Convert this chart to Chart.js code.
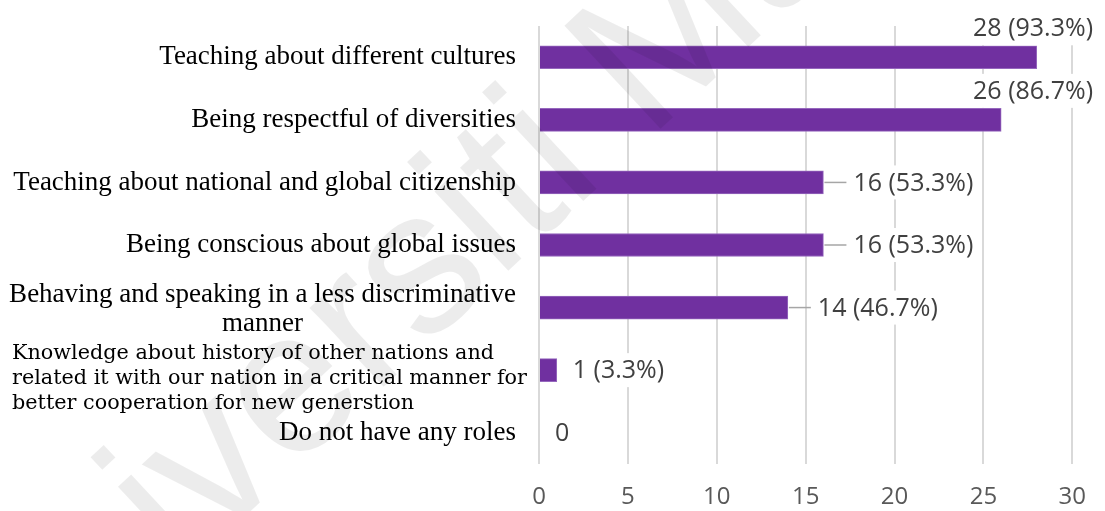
<!DOCTYPE html>
<html lang="en">
  <head>
    <meta charset="UTF-8" />
    <title>Roles in global citizenship education</title>
    <script src="https://cdn.jsdelivr.net/npm/chart.js@4.4.1/dist/chart.umd.min.js"></script>
    <style>
      html,
      body {
        margin: 0;
        padding: 0;
        background: #fff;
      }

      .chart-box {
        position: relative;
        width: 1105px;
        height: 511px;
      }
    </style>
  </head>
  <body>
    <div class="chart-box">
      <canvas id="rolesChart"></canvas>
    </div>

    <script>
      // Responses per role (n = 30)
      const categories = [
        "Teaching about different cultures",
        "Being respectful of diversities",
        "Teaching about national and global citizenship",
        "Being conscious about global issues",
        ["Behaving and speaking in a less discriminative", "manner"],
        [
          "Knowledge about history of other nations and",
          "related it with our nation in a critical manner for",
          "better cooperation for new generstion",
        ],
        "Do not have any roles",
      ];
      const counts = [28, 26, 16, 16, 14, 1, 0];
      const percents = [93.3, 86.7, 53.3, 53.3, 46.7, 3.3, null];
      const xTicks = [0, 5, 10, 15, 20, 25, 30];

      const barColor = "#7030a0";
      const serif = '"Liberation Serif", "Times New Roman", serif';
      const sans = '"Open Sans", "Noto Sans", sans-serif';

      // category names on the left, drawn by hand so each can keep its own alignment
      const categoryLabels = {
        id: "categoryLabels",
        afterDraw(chart) {
          const { ctx, chartArea } = chart;
          const y = chart.scales.y;
          const right = chartArea.left - 23;
          ctx.save();
          ctx.fillStyle = "#000";
          ctx.textBaseline = "middle";
          categories.forEach((label, i) => {
            const cy = y.getPixelForValue(i);
            if (!Array.isArray(label)) {
              ctx.font = "27px " + serif;
              ctx.textAlign = "right";
              ctx.fillText(label, right, cy);
            } else if (label.length === 2) {
              // wrapped label, lines centred on the block
              ctx.font = "27px " + serif;
              ctx.textAlign = "center";
              const w = Math.max(...label.map((l) => ctx.measureText(l).width));
              const mid = right - w / 2;
              ctx.fillText(label[0], mid, cy - 13);
              ctx.fillText(label[1], mid, cy + 16);
            } else {
              // the long one is set in a smaller face, left aligned
              ctx.font = '20px "DejaVu Serif", serif';
              ctx.textAlign = "left";
              const w = Math.max(...label.map((l) => ctx.measureText(l).width));
              const sx = 515 / w;
              ctx.save();
              ctx.translate(12, cy + 9);
              ctx.scale(sx, 1);
              label.forEach((l, k) => ctx.fillText(l, 0, (k - 1) * 25));
              ctx.restore();
            }
          });
          ctx.restore();
        },
      };

      // "n (p%)" labels at the bar ends, with leader lines for the longer gaps
      const valueLabels = {
        id: "valueLabels",
        afterDatasetsDraw(chart) {
          const { ctx } = chart;
          const meta = chart.getDatasetMeta(0);
          ctx.save();
          ctx.font = "25px " + sans;
          ctx.textBaseline = "middle";
          ctx.textAlign = "left";
          meta.data.forEach((bar, i) => {
            const text =
              percents[i] == null
                ? String(counts[i])
                : counts[i] + " (" + percents[i].toFixed(1) + "%)";
            const w = ctx.measureText(text).width;
            let leader = counts[i] >= 10;
            let x = bar.x + (leader ? 30 : 16);
            let cy = bar.y;
            if (x + w > chart.width - 8) {
              // no room on the right: sit above the bar end
              x = chart.width - 12 - w;
              cy = bar.y - 29;
              leader = false;
            }
            ctx.fillStyle = "#fff";
            ctx.fillRect(x - 3, cy - 17, w + 6, 34);
            if (leader) {
              ctx.strokeStyle = "#a6a6a6";
              ctx.lineWidth = 1.5;
              ctx.beginPath();
              ctx.moveTo(bar.x + 1, cy);
              ctx.lineTo(x - 7, cy);
              ctx.stroke();
            }
            ctx.fillStyle = "#404040";
            ctx.fillText(text, x, cy + 1);
          });
          ctx.restore();
        },
      };

      // faint diagonal watermark over the whole figure
      const watermark = {
        id: "watermark",
        afterDraw(chart) {
          const { ctx } = chart;
          ctx.save();
          ctx.translate(-10, 754);
          ctx.rotate((-43 * Math.PI) / 180);
          ctx.font = '205px "Liberation Sans", sans-serif';
          ctx.fillStyle = "rgba(0, 0, 0, 0.075)";
          ctx.textBaseline = "alphabetic";
          ctx.fillText("Universiti Malaya", 0, 0);
          ctx.restore();
        },
      };

      const rolesChart = new Chart(document.getElementById("rolesChart"), {
        type: "bar",
        data: {
          labels: categories,
          datasets: [
            {
              data: counts,
              backgroundColor: barColor,
              borderColor: "#9567bd",
              borderWidth: 1,
              borderSkipped: "start",
              barThickness: 23,
            },
          ],
        },
        options: {
          indexAxis: "y",
          responsive: true,
          maintainAspectRatio: false,
          animation: false,
          layout: {
            padding: { left: 539, right: 30, top: 26, bottom: 0 },
          },
          plugins: {
            legend: { display: false },
            tooltip: { enabled: false },
          },
          scales: {
            x: {
              min: xTicks[0],
              max: xTicks[xTicks.length - 1],
              afterBuildTicks(scale) {
                scale.ticks = xTicks.map((v) => ({ value: v }));
              },
              afterFit(scale) {
                scale.height = 47;
              },
              border: { display: false },
              grid: {
                color: "#d9d9d9",
                lineWidth: 2,
                drawTicks: false,
              },
              ticks: {
                color: "#595959",
                padding: 19,
                font: { family: sans, size: 24 },
              },
            },
            y: {
              display: false,
            },
          },
        },
        plugins: [categoryLabels, valueLabels, watermark],
      });
    </script>
  </body>
</html>
